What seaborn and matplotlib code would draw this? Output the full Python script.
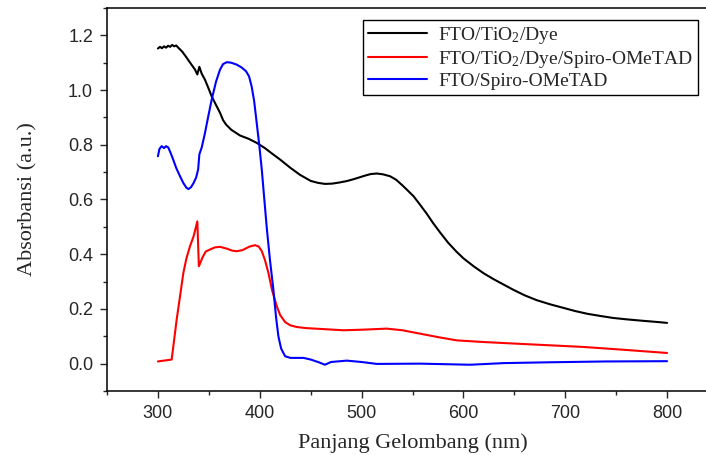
import pandas as pd
import matplotlib.pyplot as plt
import seaborn as sns
from matplotlib.ticker import MultipleLocator

sns.set_style('ticks')
plt.rcParams['font.family'] = ['Liberation Sans', 'DejaVu Sans']
plt.rcParams['mathtext.fontset'] = 'custom'
plt.rcParams['mathtext.rm'] = 'Liberation Serif'
plt.rcParams['mathtext.it'] = 'Liberation Serif:italic'

#series names as in the legend
labels = ['FTO/TiO$_2$/Dye', 'FTO/TiO$_2$/Dye/Spiro-OMeTAD', 'FTO/Spiro-OMeTAD']
colors = ['black', 'red', 'blue']

#FTO/TiO2/Dye
dye_nm = [300, 302, 304, 306, 308, 310, 312, 314, 316, 318, 320, 324, 328.3, 332, 336.4,
          338.7, 339.6, 340.7, 343, 346.2, 349.5, 352.8, 357, 361, 364, 366.9, 372, 380.6,
          389, 397, 405, 412, 420, 430, 439.6, 450, 457, 464, 471, 478, 485, 492, 498, 504,
          509, 515, 521, 528, 534, 540, 545, 551, 557, 564, 570, 577, 585, 593, 600, 610,
          620, 630, 640, 649, 660, 672, 685, 698, 710, 722, 735, 747, 760, 775, 788, 800]
dye_abs = [1.152, 1.158, 1.153, 1.160, 1.155, 1.162, 1.158, 1.165, 1.160, 1.163, 1.155, 1.140,
           1.118, 1.098, 1.075, 1.057, 1.070, 1.085, 1.060, 1.038, 1.008, 0.977, 0.946, 0.917,
           0.890, 0.874, 0.855, 0.834, 0.822, 0.807, 0.788, 0.768, 0.746, 0.716, 0.690, 0.668,
           0.661, 0.657, 0.658, 0.662, 0.667, 0.674, 0.681, 0.688, 0.693, 0.695, 0.692, 0.685,
           0.672, 0.652, 0.634, 0.612, 0.583, 0.548, 0.515, 0.480, 0.442, 0.410, 0.385, 0.356,
           0.330, 0.308, 0.288, 0.270, 0.250, 0.232, 0.217, 0.204, 0.192, 0.182, 0.174, 0.167,
           0.162, 0.157, 0.153, 0.149]

#FTO/TiO2/Dye/Spiro-OMeTAD
spiro_dye_nm = [300, 313.5, 316.8, 318.4, 321.7, 325, 328, 331.5, 335, 338.7, 340.2, 344, 347,
                351, 356, 361, 368, 373, 377.4, 383, 390, 395.4, 399, 402, 405, 408.5, 412,
                416.7, 420, 424.9, 430, 436.3, 445, 459, 482, 500, 524.7, 540, 554, 575, 593.5,
                620, 652, 685, 717.8, 760, 800]
spiro_dye_abs = [0.008, 0.015, 0.113, 0.161, 0.246, 0.332, 0.385, 0.429, 0.465, 0.520, 0.356,
                 0.390, 0.410, 0.417, 0.425, 0.427, 0.420, 0.413, 0.411, 0.415, 0.428, 0.433,
                 0.428, 0.411, 0.380, 0.332, 0.270, 0.210, 0.178, 0.152, 0.140, 0.134, 0.130,
                 0.127, 0.122, 0.124, 0.128, 0.122, 0.112, 0.097, 0.085, 0.079, 0.073, 0.067,
                 0.061, 0.050, 0.039]

#FTO/Spiro-OMeTAD
spiro_nm = [300, 301.5, 303.7, 306, 308, 310.2, 312.5, 315, 318, 321.7, 325, 328, 330, 332.5,
            335, 337.5, 339.5, 340.7, 343, 346.2, 349.5, 352.8, 357, 361, 364, 367.6, 372,
            377.4, 382, 386.5, 389.5, 392, 394.5, 397, 399.5, 402, 404.5, 406.9, 410, 413.4,
            416, 418.3, 421, 424.9, 430, 443, 450, 458, 464, 470, 485.5, 500, 515, 557.5,
            606.6, 640, 685, 740, 800]
spiro_abs = [0.758, 0.785, 0.795, 0.788, 0.795, 0.790, 0.770, 0.746, 0.715, 0.685, 0.660,
             0.643, 0.638, 0.645, 0.660, 0.680, 0.710, 0.765, 0.790, 0.843, 0.905, 0.965,
             1.030, 1.075, 1.095, 1.102, 1.100, 1.093, 1.083, 1.069, 1.050, 1.014, 0.960,
             0.880, 0.800, 0.709, 0.600, 0.496, 0.380, 0.270, 0.170, 0.100, 0.055, 0.027,
             0.021, 0.021, 0.015, 0.005, -0.004, 0.006, 0.011, 0.006, -0.001, 0.000, -0.004,
             0.002, 0.005, 0.008, 0.009]

#long table for seaborn
df = pd.concat([
    pd.DataFrame({'nm': dye_nm, 'abs': dye_abs, 'sample': labels[0]}),
    pd.DataFrame({'nm': spiro_dye_nm, 'abs': spiro_dye_abs, 'sample': labels[1]}),
    pd.DataFrame({'nm': spiro_nm, 'abs': spiro_abs, 'sample': labels[2]}),
])

fig = plt.figure(figsize=(7.06, 4.55), dpi=100)
ax = fig.add_axes([107 / 706, 64 / 455, 611 / 706, 383 / 455])

sns.lineplot(data=df, x='nm', y='abs', hue='sample', hue_order=labels,
             palette=colors, estimator=None, sort=False, linewidth=1.5, ax=ax)

ax.set_xlim(250, 850)
ax.set_ylim(-0.1, 1.3)
ax.xaxis.set_major_locator(MultipleLocator(100))
ax.xaxis.set_minor_locator(MultipleLocator(50))
ax.yaxis.set_minor_locator(MultipleLocator(0.1))
ax.set_yticks([0.0, 0.2, 0.4, 0.6, 0.8, 1.0, 1.2])
ax.tick_params(which='major', direction='out', length=5, width=1, labelsize=13, pad=5)
ax.tick_params(which='minor', direction='out', length=3, width=1)
ax.spines['right'].set_visible(False)
for s in ['left', 'bottom', 'top']:
    ax.spines[s].set_linewidth(1.1)
    ax.spines[s].set_color('black')

ax.set_xlabel('Panjang Gelombang (nm)', family='Liberation Serif', fontsize=16, labelpad=8)
ax.set_ylabel('Absorbansi (a.u.)', family='Liberation Serif', fontsize=16, labelpad=22)

leg = ax.legend(loc='upper right', bbox_to_anchor=(0.967, 0.969), borderaxespad=0,
                prop={'family': 'Liberation Serif', 'size': 14}, fancybox=False,
                edgecolor='black', framealpha=1, handlelength=3.0, handletextpad=0.6,
                labelspacing=0.15, borderpad=0.25)
leg.get_frame().set_linewidth(1.0)
for line in leg.get_lines():
    line.set_linewidth(1.5)

plt.savefig('out.png', dpi=100)
